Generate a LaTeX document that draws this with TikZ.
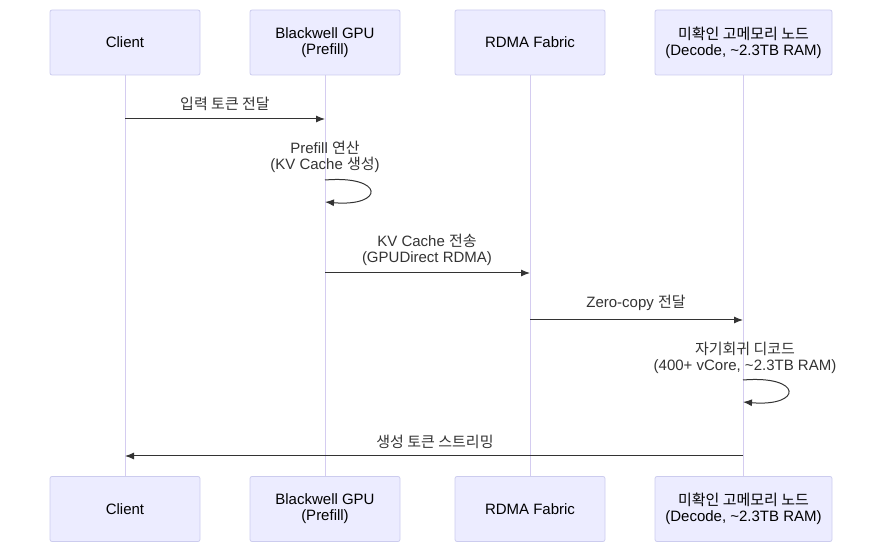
\documentclass[tikz,border=0pt]{standalone}
\usepackage{fontspec}
\setmainfont{Liberation Sans}
\newfontfamily\kofont{Noto Sans CJK KR}
\newcommand{\ko}[1]{{\kofont #1}}
\usetikzlibrary{arrows.meta}
\definecolor{actfill}{HTML}{ECECFF}
\definecolor{actline}{HTML}{CCCCEE}
\definecolor{lifec}{HTML}{D4CCF0}
\definecolor{msgc}{HTML}{333333}
\tikzset{
  actor/.style={draw=actline,fill=actfill,line width=0.8pt,rounded corners=2pt,minimum height=65pt,align=center,font=\fontsize{15}{16}\selectfont,inner sep=0pt},
  life/.style={draw=lifec,line width=1pt},
  msg/.style={draw=msgc,line width=1pt,-{Latex[length=9pt,width=7pt]}},
  lbl/.style={align=center,font=\fontsize{15}{16}\selectfont,text=msgc,inner sep=0pt}
}
\begin{document}
\begin{tikzpicture}[x=1pt,y=-1pt]
\useasboundingbox (0,0) rectangle (887,553);
\foreach \n/\x/\w/\t in {c/125/150/Client, g/325/150/{Blackwell GPU\\(Prefill)}, r/530/150/RDMA Fabric, d/743.5/177/{\ko{미확인 고메모리 노드}\\(Decode, \textasciitilde2.3TB RAM)}}{
  \draw[life] (\x,75) -- (\x,477);
  \node[actor,minimum width=\w pt] (\n t) at (\x,42.5) {\t};
  \node[actor,minimum width=\w pt] (\n b) at (\x,509) {\t};
}
\coordinate (c1) at (125,119); \coordinate (g1) at (325,119);
\draw[msg] (c1) -- (g1);
\node[lbl] (l1) at (225,104) {\ko{입력 토큰 전달}};
\coordinate (g2a) at (325,180); \coordinate (g2b) at (325,202);
\draw[msg] (g2a) .. controls (385,175) and (385,207) .. (g2b);
\node[lbl] (l2) at (325,157) {Prefill \ko{연산}\\(KV Cache \ko{생성})};
\coordinate (g3) at (325,273); \coordinate (r3) at (530,273);
\draw[msg] (g3) -- (r3);
\node[lbl] (l3) at (427,250) {KV Cache \ko{전송}\\(GPUDirect RDMA)};
\coordinate (r4) at (530,320); \coordinate (d4) at (743,320);
\draw[msg] (r4) -- (d4);
\node[lbl] (l4) at (636,303) {Zero-copy \ko{전달}};
\coordinate (d5a) at (743,380); \coordinate (d5b) at (743,402);
\draw[msg] (d5a) .. controls (803,375) and (803,407) .. (d5b);
\node[lbl] (l5) at (745,358) {\ko{자기회귀 디코드}\\(400+ vCore, \textasciitilde2.3TB RAM)};
\coordinate (d6) at (743,456); \coordinate (c6) at (125,456);
\draw[msg] (d6) -- (c6);
\node[lbl] (l6) at (435,442) {\ko{생성 토큰 스트리밍}};
\end{tikzpicture}
\end{document}
